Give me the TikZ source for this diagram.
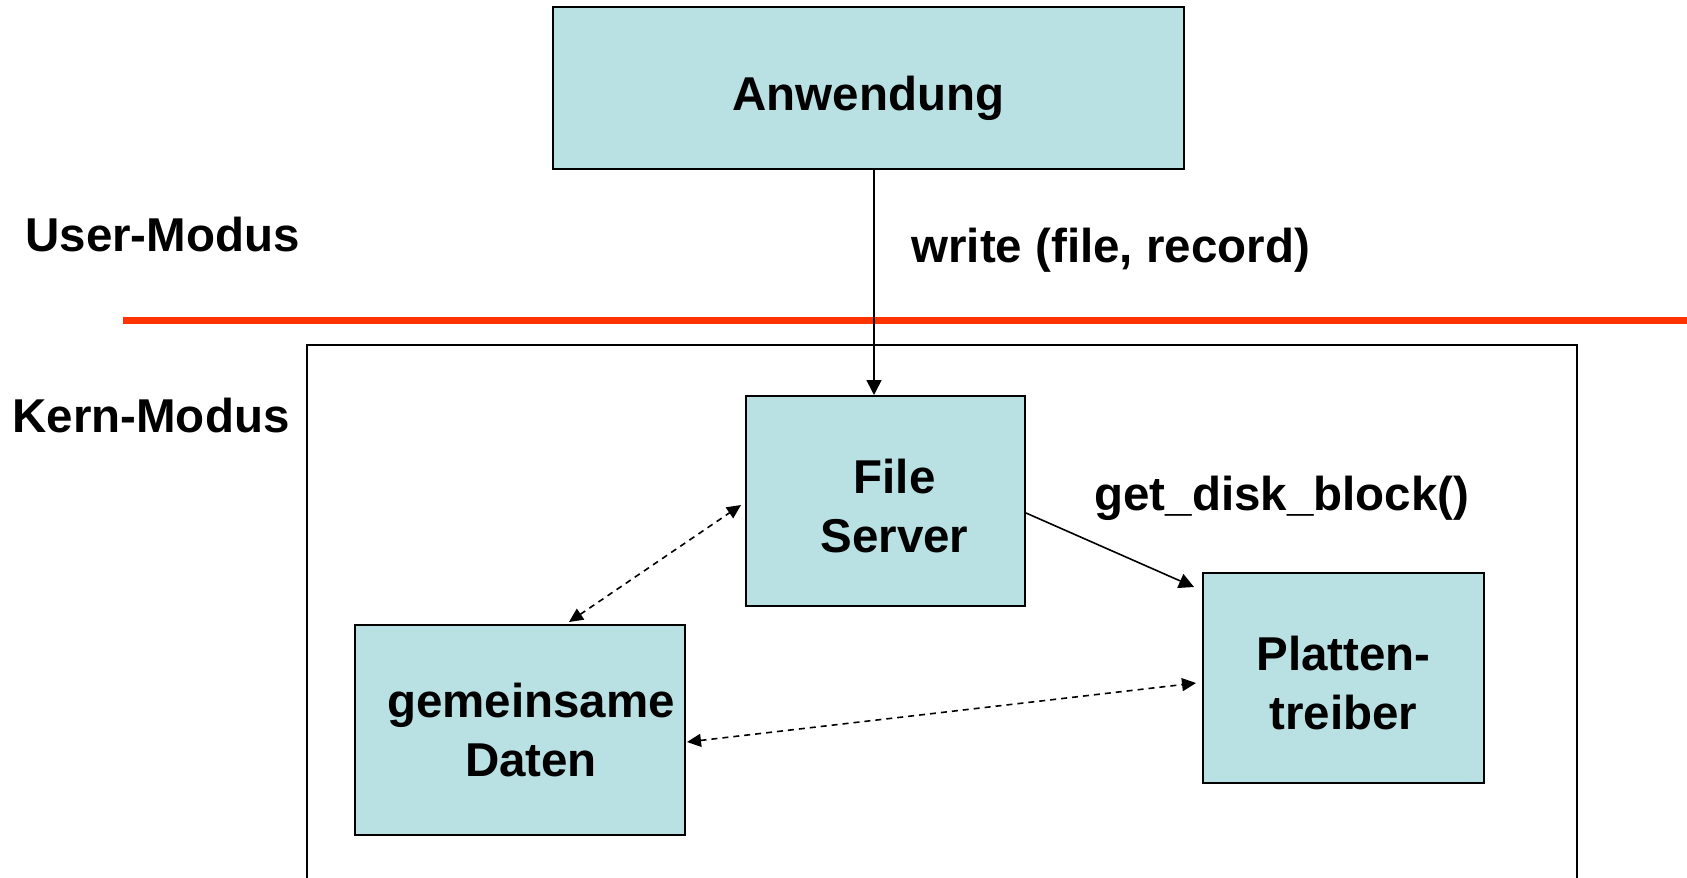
\documentclass[tikz,border=0pt]{standalone}
\usepackage{fontspec}
\setmainfont{Liberation Sans}
\usetikzlibrary{arrows.meta,calc}
\definecolor{boxfill}{RGB}{185,224,226}
\definecolor{redline}{RGB}{255,51,0}
\tikzset{
  box/.style={draw=black, line width=1pt, fill=boxfill, rectangle, inner sep=0pt,
    align=center, font=\fontsize{23.75}{29.5}\selectfont\bfseries},
  lbl/.style={inner sep=0pt, anchor=base west, font=\fontsize{23.75}{29.5}\selectfont\bfseries},
  conn/.style={line width=0.8pt, -{Triangle[length=7.5pt,width=7.5pt]}},
  dconn/.style={line width=0.8pt, dash pattern=on 3pt off 2.5pt,
    {Triangle[length=7pt,width=6.5pt]}-{Triangle[length=7pt,width=6.5pt]}},
}
\begin{document}
\begin{tikzpicture}[x=0.5pt,y=-0.5pt]
\useasboundingbox (0,0) rectangle (1687,878);
% kernel frame
\draw[line width=1pt] (307,900) -- (307,345) -- (1577,345) -- (1577,900);
% separation line
\draw[redline, line width=3.5pt] (123,320) -- (1700,320);
% boxes
\node[box, minimum width=315.5pt, minimum height=81pt] (A) at (868.5,88) {\rule{0pt}{27.5pt}Anwendung};
\node[box, minimum width=139.5pt, minimum height=105pt] (FS) at (885.5,501) {\rule{0pt}{22pt}\hspace*{9pt}File\\\hspace*{9pt}Server};
\node[box, minimum width=165pt, minimum height=105pt] (GD) at (520,730) {\hspace*{11pt}gemeinsame\\\hspace*{11pt}Daten};
\node[box, minimum width=140.5pt, minimum height=105pt] (PT) at (1343.5,678) {\rule{0pt}{22pt}Platten-\\treiber};
% labels
\node[lbl] (um) at (25,251) {User-Modus};
\node[lbl] (km) at (12,432) {Kern-Modus};
\node[lbl] (wr) at (911,262) {write (file, record)};
\node[lbl] (gd) at (1094,510) {get\_disk\_block()};
% connectors
\coordinate (w) at (874,0);
\draw[conn] (A.south -| w) -- (FS.north -| w);
\draw[conn] ($(FS.east)+(0,12)$) -- ($(PT.north west)+(-8,15)$);
\draw[dconn] ($(GD.north)+(49,-2)$) -- ($(FS.west)+(-4,4)$);
\draw[dconn] ($(GD.east)+(1,12)$) -- ($(PT.west)+(-6,5)$);
\end{tikzpicture}
\end{document}
